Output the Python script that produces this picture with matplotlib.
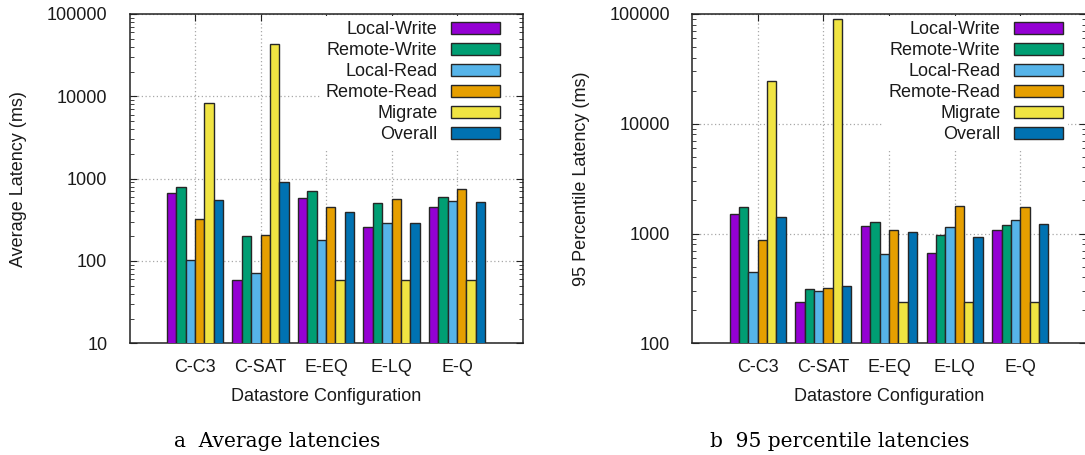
import matplotlib
matplotlib.use("Agg")
import matplotlib.pyplot as plt
from matplotlib.ticker import LogLocator, NullFormatter
import numpy as np

plt.rcParams['font.family'] = ['Liberation Sans', 'DejaVu Sans']
plt.rcParams['font.size'] = 13

configs = ["C-C3", "C-SAT", "E-EQ", "E-LQ", "E-Q"]
series = ["Local-Write", "Remote-Write", "Local-Read", "Remote-Read", "Migrate", "Overall"]
colores = ["#9400D3", "#009E73", "#56B4E9", "#E69F00", "#F0E442", "#0072B2"]

# latencia promedio (ms)
avg_local_write = [676, 58, 588, 261, 457]
avg_remote_write = [792, 201, 708, 506, 593]
avg_local_read = [104, 72, 181, 290, 541]
avg_remote_read = [327, 205, 457, 566, 756]
avg_migrate = [8300, 42800, 58, 58, 58]
avg_overall = [556, 903, 397, 290, 521]

# percentil 95 (ms)
p95_local_write = [1511, 240, 1167, 662, 1072]
p95_remote_write = [1738, 315, 1286, 979, 1191]
p95_local_read = [444, 298, 653, 1150, 1323]
p95_remote_read = [876, 322, 1087, 1775, 1751]
p95_migrate = [24500, 89400, 240, 240, 240]
p95_overall = [1409, 334, 1028, 926, 1233]

datos_avg = [avg_local_write, avg_remote_write, avg_local_read,
             avg_remote_read, avg_migrate, avg_overall]
datos_p95 = [p95_local_write, p95_remote_write, p95_local_read,
             p95_remote_read, p95_migrate, p95_overall]

W, H = 1085, 455
fig = plt.figure(figsize=(W / 100, H / 100), dpi=100)

ax1 = fig.add_axes([129.5 / W, 1 - 343.3 / H, 393 / W, 329.3 / H])
ax2 = fig.add_axes([692 / W, 1 - 343.3 / H, 394 / W, 329.3 / H])

x = np.arange(len(configs))
ancho = 1 / 7


def dibujar(ax, datos, ylim, ylabel, ylab_x, leg_x):
    for i, (nombre, vals) in enumerate(zip(series, datos)):
        ax.bar(x + (i - 2.5) * ancho, vals, ancho, bottom=1e-9,
               color=colores[i], edgecolor="#262626", linewidth=1.0,
               label=nombre, zorder=3)
    ax.set_yscale("log")
    ax.set_ylim(*ylim)
    ax.set_xlim(-1, 5)
    ax.set_xticks(x)
    ax.set_xticklabels(configs)
    ax.yaxis.set_major_locator(LogLocator(base=10))
    ax.yaxis.set_minor_locator(LogLocator(base=10, subs=np.arange(2, 10)))
    ax.yaxis.set_minor_formatter(NullFormatter())
    ax.yaxis.set_major_formatter(plt.FuncFormatter(lambda v, p: "%d" % v))
    ax.tick_params(axis="both", which="both", direction="in",
                   top=True, right=True, colors="#222222", labelcolor="#1a1a1a")
    ax.tick_params(axis="y", which="major", length=5, pad=16)
    ax.tick_params(axis="y", which="minor", length=3)
    ax.tick_params(axis="x", which="major", length=5, pad=11)
    ax.grid(True, which="major", color="#a8a8a8", linestyle=(0, (1, 2)),
            linewidth=0.9, zorder=0)
    ax.set_axisbelow(True)
    for s in ax.spines.values():
        s.set_color("#222222")
        s.set_linewidth(1.1)
    ax.set_xlabel("Datastore Configuration", color="#1a1a1a")
    ax.xaxis.set_label_coords(0.5, -0.135)
    ax.set_ylabel(ylabel, color="#1a1a1a")
    ax.yaxis.set_label_coords(ylab_x, 0.5)
    leg = ax.legend(loc="upper right", bbox_to_anchor=(leg_x, 0.994),
                    markerfirst=False, frameon=True,
                    fancybox=False, edgecolor="none", facecolor="white",
                    framealpha=1, handlelength=2.71, handleheight=0.59,
                    handletextpad=0.76, labelspacing=0.22, borderpad=0.3,
                    borderaxespad=0, fontsize=13)
    leg.set_zorder(5)
    for t in leg.get_texts():
        t.set_ha("right")
        t.set_color("#1a1a1a")


dibujar(ax1, datos_avg, (10, 100000), "Average Latency (ms)", -0.262, 0.9565)
dibujar(ax2, datos_p95, (100, 100000), "95 Percentile Latency (ms)", -0.258, 0.9555)

fig.text(174 / W, 1 - 446.7 / H, "a  Average latencies",
         family="DejaVu Serif", fontsize=14.5, va="baseline", ha="left")
fig.text(710 / W, 1 - 446.7 / H, "b  95 percentile latencies",
         family="DejaVu Serif", fontsize=14.5, va="baseline", ha="left")

fig.savefig("out.png", dpi=100)
